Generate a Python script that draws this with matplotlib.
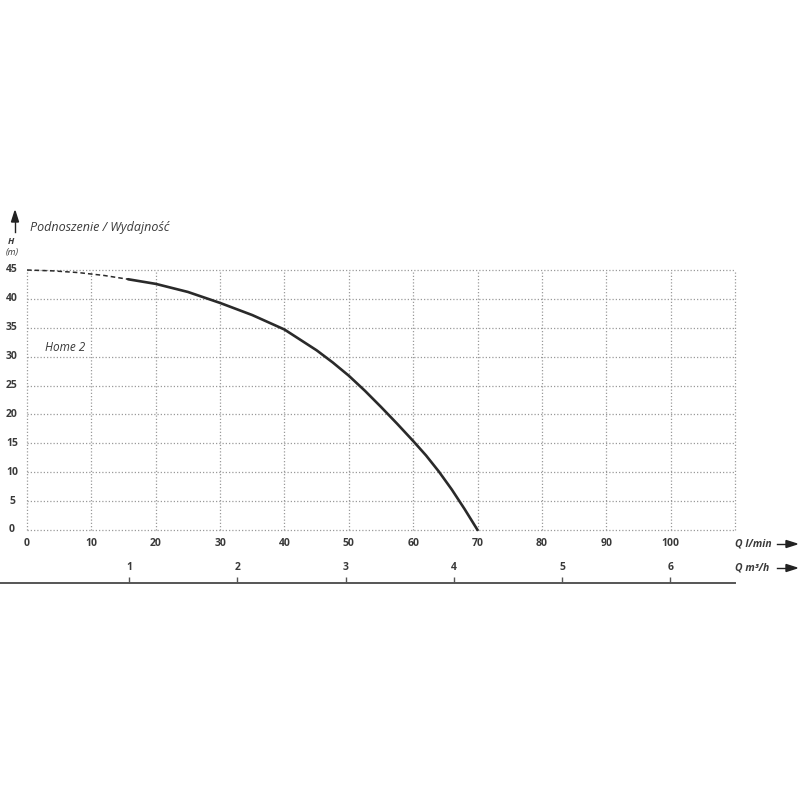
#!/usr/bin/env python3
# -*- coding: utf-8 -*-

import matplotlib
matplotlib.use("Agg")
import matplotlib.pyplot as plt
import matplotlib.transforms as mtransforms

# DATA ----------------------------------------------------------------------------------------------------------------

# pump curve Home 2 : flow (l/min) -> head (m)
q_dashed = [0, 4, 8, 12, 15.7]
h_dashed = [45, 44.85, 44.55, 44.05, 43.4]
q_solid = [15.7, 20, 25, 30, 35, 40, 42.5, 45, 47.5, 50, 52.5, 55, 57.5, 60, 62, 64, 66, 68, 69, 70]
h_solid = [43.4, 42.6, 41.2, 39.3, 37.2, 34.7, 32.9, 31.1, 29.0, 26.7, 24.1, 21.3, 18.4, 15.4, 12.9, 10.1, 7.0, 3.6, 1.8, 0]

x_ticks_lmin = [0, 10, 20, 30, 40, 50, 60, 70, 80, 90, 100]
y_ticks_h = [0, 5, 10, 15, 20, 25, 30, 35, 40, 45]
ticks_m3h = [1, 2, 3, 4, 5, 6]

title = "Podnoszenie / Wydajność"
series_label = "Home 2"

# FIGURE --------------------------------------------------------------------------------------------------------------

plt.rcParams['font.family'] = ['Open Sans', 'DejaVu Sans']
TXT = '#3a3a3a'
GRID = '#9a9a9a'
W = H = 800.0

fig = plt.figure(figsize=(8, 8), dpi=100)

def fx(px):
    return px / W

def fy(py):
    return 1 - py / H

x0, x1, y0, y1 = 27, 735, 270, 530
ax = fig.add_axes([fx(x0), fy(y1), fx(x1 - x0), (y1 - y0) / H])
ax.set_xlim(0, 110)
ax.set_ylim(0, 45)
for s in ax.spines.values():
    s.set_visible(False)
ax.set_xticks([])
ax.set_yticks([])

# dotted grid, incl. border
for xv in range(0, 111, 10):
    ax.axvline(xv, color=GRID, lw=0.9, ls=(0, (1, 1.6)), clip_on=False, zorder=1)
for yv in range(0, 46, 5):
    ax.axhline(yv, color=GRID, lw=0.9, ls=(0, (1, 1.6)), clip_on=False, zorder=1)

# tick labels
tb = mtransforms.blended_transform_factory(ax.transData, ax.transAxes)
for xv in x_ticks_lmin:
    ax.text(xv, -14 / (y1 - y0), str(xv), transform=tb, ha='center', va='center',
            fontsize=7.5, fontweight='bold', color=TXT)
tl = mtransforms.blended_transform_factory(ax.transAxes, ax.transData)
for yv in y_ticks_h:
    ax.text(-15 / (x1 - x0), yv, str(yv), transform=tl, ha='center', va='center',
            fontsize=7.5, fontweight='bold', color=TXT)

# curve
ax.plot(q_dashed, h_dashed, color='#2a2a2a', lw=1.1, ls=(0, (3, 2)), clip_on=False, zorder=3)
ax.plot(q_solid, h_solid, color='#2a2a2a', lw=1.9, clip_on=False, zorder=3,
        solid_capstyle='round', solid_joinstyle='round')

fig.text(fx(45), fy(347), series_label, fontsize=8.5, style='italic', color=TXT, va='center')

# secondary flow axis (m3/h) -----------------------------------------------------------------------------------------
line_y = 583
ax2 = fig.add_axes([0, fy(line_y), fx(x1), 0.001])
m_px0, m_step = 21.0, 108.2          # pixel of 0 m3/h and pixels per m3/h
ax2.set_xlim(-m_px0 / m_step, (x1 - m_px0) / m_step)
for name, s in ax2.spines.items():
    s.set_visible(name == 'bottom')
ax2.spines['bottom'].set_color('#555555')
ax2.spines['bottom'].set_linewidth(1.4)
ax2.set_yticks([])
ax2.set_xticks(ticks_m3h)
ax2.tick_params(axis='x', direction='in', length=4, width=1, color='#555555', labelbottom=False)
t2 = mtransforms.blended_transform_factory(ax2.transData, fig.transFigure)
for m in ticks_m3h:
    ax2.text(m, fy(568), str(m), transform=t2, ha='center', va='center',
             fontsize=7.5, fontweight='bold', color=TXT)

# axis names and arrows
fig.text(fx(735), fy(544), "Q l/min", fontsize=7.5, style='italic', fontweight='bold', color=TXT, va='center')
fig.text(fx(735), fy(568), "Q m³/h", fontsize=7.5, style='italic', fontweight='bold', color=TXT, va='center')
for yy in (544, 568):
    fig.add_artist(plt.Line2D([fx(777), fx(790)], [fy(yy), fy(yy)], color='#222222', lw=1.0))
    fig.patches.append(plt.Polygon([[fx(786), fy(yy - 3.5)], [fx(797), fy(yy)], [fx(786), fy(yy + 3.5)]],
                                   closed=True, color='#222222', transform=fig.transFigure, figure=fig))

# vertical H arrow
fig.add_artist(plt.Line2D([fx(15), fx(15)], [fy(232), fy(218)], color='#222222', lw=1.0))
fig.patches.append(plt.Polygon([[fx(11.5), fy(222)], [fx(15), fy(211)], [fx(18.5), fy(222)]],
                               closed=True, color='#222222', transform=fig.transFigure, figure=fig))
fig.text(fx(11), fy(241), "H", fontsize=6.5, style='italic', fontweight='bold', color=TXT, ha='center', va='center')
fig.text(fx(12), fy(253), "(m)", fontsize=6.5, style='italic', color=TXT, ha='center', va='center')

fig.text(fx(30), fy(228), title, fontsize=9, style='italic', color=TXT, va='center')

fig.savefig("out.png", dpi=100, facecolor='white')
